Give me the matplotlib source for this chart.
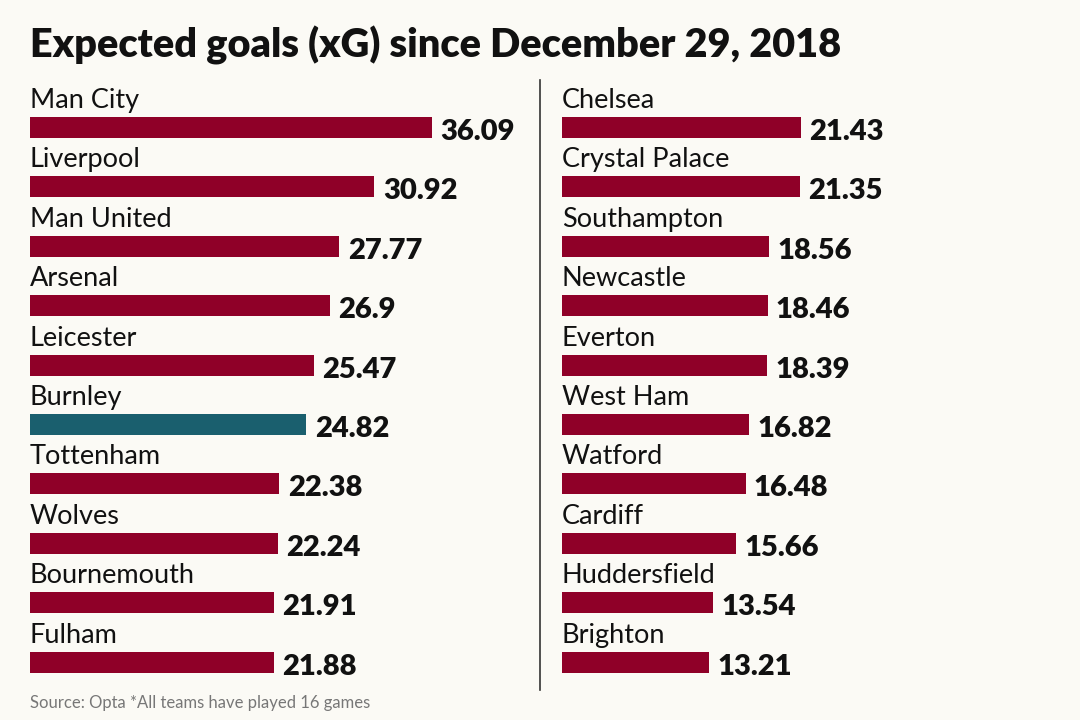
import matplotlib
matplotlib.use("Agg")
from matplotlib import pyplot as plt
from matplotlib.lines import Line2D

plt.rcParams['font.family'] = ['Lato', 'DejaVu Sans']

left_teams = ["Man City", "Liverpool", "Man United", "Arsenal", "Leicester",
              "Burnley", "Tottenham", "Wolves", "Bournemouth", "Fulham"]
left_xg = [36.09, 30.92, 27.77, 26.9, 25.47, 24.82, 22.38, 22.24, 21.91, 21.88]
right_teams = ["Chelsea", "Crystal Palace", "Southampton", "Newcastle", "Everton",
               "West Ham", "Watford", "Cardiff", "Huddersfield", "Brighton"]
right_xg = [21.43, 21.35, 18.56, 18.46, 18.39, 16.82, 16.48, 15.66, 13.54, 13.21]
highlight = "Burnley"

bg = "#fbfaf5"
red = "#8f0028"
teal = "#1a5f6e"

W, H = 1080, 720
px_per_unit = 11.14   # pixels per xG
row_px = 59.4
top_px, bottom_px = 80, 690

fig = plt.figure(figsize=(10.8, 7.2), dpi=100, facecolor=bg)

def column(x0_px, teams, values):
    width_px = 480
    ax = fig.add_axes([x0_px / W, (H - bottom_px) / H, width_px / W, (bottom_px - top_px) / H])
    ax.set_facecolor(bg)
    ax.set_xlim(0, width_px / px_per_unit)
    ax.set_ylim((bottom_px - top_px) / row_px, 0)
    ax.axis('off')
    bar_top = 37 / row_px
    bar_h = 21 / row_px
    for i, (t, v) in enumerate(zip(teams, values)):
        c = teal if t == highlight else red
        ax.barh(i + bar_top + bar_h / 2, v, height=bar_h, color=c, align='center')
        ax.text(0, i + 28 / row_px, t, fontsize=19.5, va='baseline', ha='left', color='#111111')
        ax.text(v + 0.75, i + bar_top + bar_h + 2 / row_px, f"{v:g}", fontsize=21,
                fontweight='heavy', va='baseline', ha='left', color='#111111')
    return ax

column(30, left_teams, left_xg)
column(562, right_teams, right_xg)

fig.add_artist(Line2D([540 / W, 540 / W], [1 - 80 / H, 1 - 690 / H],
                      transform=fig.transFigure, color='#333333', lw=1.2))

fig.text(30 / W, 1 - 45 / H, "Expected goals (xG) since December 29, 2018",
         fontsize=28.5, fontweight='heavy', va='center', ha='left', color='#111111')
fig.text(30 / W, 1 - 703 / H, "Source: Opta *All teams have played 16 games",
         fontsize=12, va='center', ha='left', color='#777777')

fig.savefig("out.png", dpi=100, facecolor=bg)
